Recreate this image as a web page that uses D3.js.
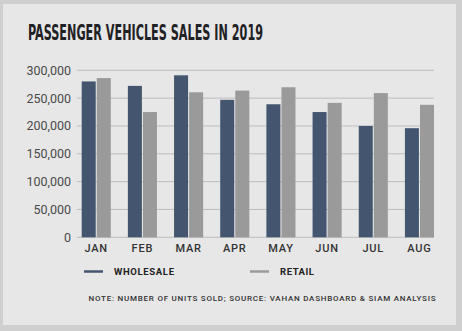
<!DOCTYPE html>
<html>
<head>
<meta charset="utf-8">
<script src="https://cdn.jsdelivr.net/npm/d3@7"></script>
<style>
  html, body { margin: 0; padding: 0; background: #cfcfcf; }
  svg { display: block; }
</style>
</head>
<body>
<div id="chart"></div>
<script>
(function(){
	const months = ["JAN", "FEB", "MAR", "APR", "MAY", "JUN", "JUL", "AUG"];
	const wholesale = [280000, 272000, 291000, 247000, 239000, 225000, 200000, 196000];
	const retail = [286000, 225000, 260500, 263500, 269500, 241500, 259000, 238000];
	const yTicks = [0, 50000, 100000, 150000, 200000, 250000, 300000];
	const seriesNames = ["WHOLESALE", "RETAIL"];

	const WHOLESALE_COLOR = "#44566f",
		  RETAIL_COLOR = "#9a9a9a";

	var width = 462,
		height = 331;

	var svg = d3.select("#chart")
				.append("svg")
				.attr("width", width)
				.attr("height", height);

	// panel
	svg.append("rect")
	   .attr("x", 3).attr("y", 4)
	   .attr("width", 453).attr("height", 321)
	   .attr("fill", "#e7e7e7");

	svg.append("text")
	   .attr("x", 28).attr("y", 40)
	   .attr("font-family", "'Liberation Sans Narrow', 'DejaVu Sans Condensed', sans-serif")
	   .attr("font-weight", "bold")
	   .attr("font-size", 22)
	   .attr("fill", "#1f2124")
	   .attr("textLength", 235)
	   .attr("lengthAdjust", "spacingAndGlyphs")
	   .text("PASSENGER VEHICLES SALES IN 2019");

	var y = d3.scaleLinear()
			  .domain([0, 300000])
			  .range([237.3, 70.3]);

	var x0 = d3.scaleBand()
			   .domain(months)
			   .range([81.7, 434])
			   .paddingInner(0.37)
			   .paddingOuter(0);

	var x1 = d3.scaleBand()
			   .domain(seriesNames)
			   .range([0, x0.bandwidth()])
			   .paddingInner(0.07);

	// gridlines
	svg.append("g")
	   .selectAll("line")
	   .data(yTicks)
	   .enter().append("line")
	   .attr("x1", 77).attr("x2", 434)
	   .attr("y1", d => y(d)).attr("y2", d => y(d))
	   .attr("stroke", "#bdbdbd")
	   .attr("stroke-width", 1);

	// y axis labels
	svg.append("g")
	   .selectAll("text")
	   .data(yTicks)
	   .enter().append("text")
	   .attr("x", 71)
	   .attr("y", d => y(d))
	   .attr("dy", "0.36em")
	   .attr("text-anchor", "end")
	   .attr("font-family", "Roboto, sans-serif")
	   .attr("font-size", 12.5)
	   .attr("fill", "#4a4a4a")
	   .text(d => d3.format(",")(d));

	const rows = months.map((m, i) => ({ month: m, values: [wholesale[i], retail[i]] }));
	const colors = [WHOLESALE_COLOR, RETAIL_COLOR];

	var groups = svg.append("g")
					.selectAll("g")
					.data(rows)
					.enter().append("g")
					.attr("transform", d => "translate(" + x0(d.month) + ",0)");

	groups.selectAll("rect")
		  .data(d => d.values.map((v, j) => ({ key: seriesNames[j], value: v, color: colors[j] })))
		  .enter().append("rect")
		  .attr("x", d => x1(d.key))
		  .attr("width", x1.bandwidth())
		  .attr("y", d => y(d.value))
		  .attr("height", d => y(0) - y(d.value))
		  .attr("fill", d => d.color);

	// month labels
	svg.append("g")
	   .selectAll("text")
	   .data(months)
	   .enter().append("text")
	   .attr("x", d => x0(d) + x0.bandwidth() / 2)
	   .attr("y", 252)
	   .attr("text-anchor", "middle")
	   .attr("font-family", "Roboto, sans-serif")
	   .attr("font-weight", 500)
	   .attr("font-size", 11)
	   .attr("letter-spacing", 0.8)
	   .attr("fill", "#333")
	   .text(d => d);

	// legend
	const legendX = [84, 250];
	const legendW = [60, 34];
	var legend = svg.append("g")
					.selectAll("g")
					.data(seriesNames)
					.enter().append("g")
					.attr("transform", (d, i) => "translate(" + legendX[i] + ",271.5)");

	legend.append("line")
		  .attr("x1", 0).attr("x2", 19)
		  .attr("stroke", (d, i) => colors[i])
		  .attr("stroke-width", 2.5);

	legend.append("text")
		  .attr("x", 30)
		  .attr("dy", "0.36em")
		  .attr("font-family", "Roboto, sans-serif")
		  .attr("font-weight", "bold")
		  .attr("font-size", 9.5)
		  .attr("fill", "#222")
		  .attr("textLength", (d, i) => legendW[i])
		  .attr("lengthAdjust", "spacing")
		  .text(d => d);

	svg.append("text")
	   .attr("x", 88.5).attr("y", 300.5)
	   .attr("font-family", "Roboto, sans-serif")
	   .attr("font-weight", 500)
	   .attr("font-size", 8)
	   .attr("fill", "#333")
	   .attr("textLength", 347)
	   .attr("lengthAdjust", "spacing")
	   .text("NOTE: NUMBER OF UNITS SOLD; SOURCE: VAHAN DASHBOARD & SIAM ANALYSIS");
})();
</script>
</body>
</html>
